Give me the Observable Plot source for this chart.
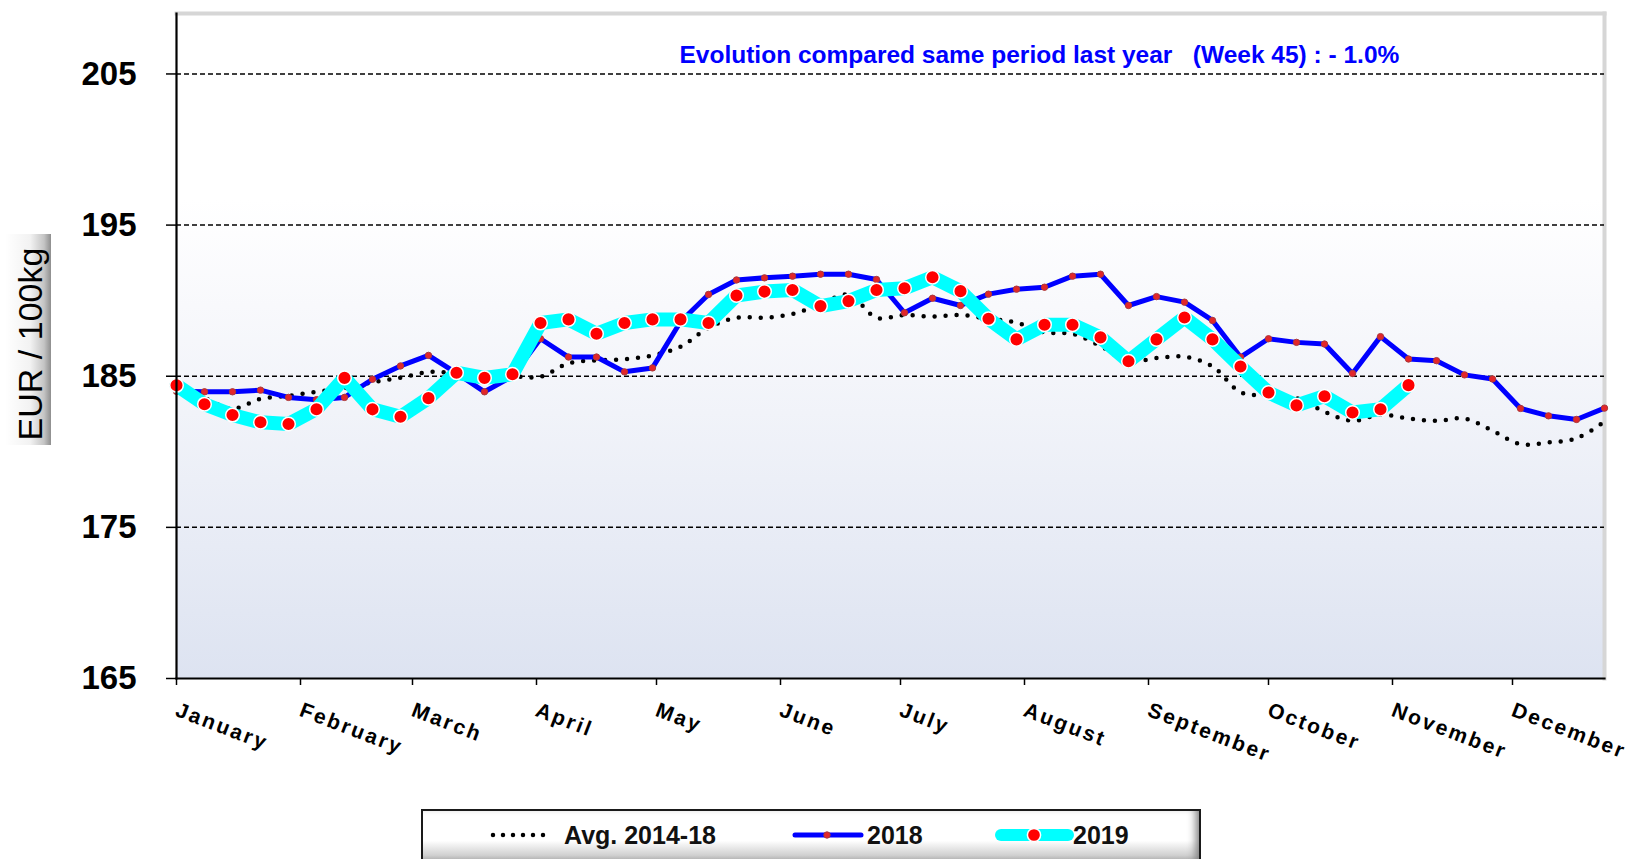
<!DOCTYPE html>
<html><head><meta charset="utf-8">
<script src="https://cdn.jsdelivr.net/npm/d3@7"></script>
<script src="https://cdn.jsdelivr.net/npm/@observablehq/plot@0.6"></script>
<style>
html,body{margin:0;padding:0;background:#fff;width:1631px;height:859px;overflow:hidden;font-family:"Liberation Sans",Arial,sans-serif;}
#wrap{position:relative;width:1631px;height:859px;}
#chart svg{display:block;}
g[aria-label="x-axis tick label"] text{letter-spacing:2.4px;}
#legend{position:absolute;left:421px;top:809px;width:780px;height:58px;box-sizing:border-box;border:2px solid #1a1a1a;
  background:linear-gradient(#ffffff 0%,#ffffff 55%,#d0d0d0 82%,#8f8f8f 100%);box-shadow:inset -8px 0 8px -5px #7a7a7a;}
#legend svg{display:block;}
</style></head><body>
<div id="wrap"><div id="chart"></div><div id="legend"></div></div>
<script>
const monthNames = ["January","February","March","April","May","June","July","August","September","October","November","December"];
const weeks = [1,2,3,4,5,6,7,8,9,10,11,12,13,14,15,16,17,18,19,20,21,22,23,24,25,26,27,28,29,30,31,32,33,34,35,36,37,38,39,40,41,42,43,44,45,46,47,48,49,50,51,52];
const avg = [184.2,183.55,182.85,183.5,183.7,183.97,184.2,184.6,184.9,185.28,185.2,185.05,185.0,184.97,185.85,186.05,186.12,186.38,186.95,188.2,188.87,188.87,189.12,189.75,190.4,188.87,189.05,188.95,189.05,188.8,188.55,187.9,187.8,187.0,186.0,186.2,186.3,185.65,183.95,183.7,183.55,182.65,182.05,182.45,182.2,182.05,182.2,181.4,180.5,180.62,180.89,182.0];
const y2018 = [184.0,183.97,183.97,184.08,183.6,183.45,183.6,184.8,185.68,186.38,185.2,183.97,185.0,187.48,186.27,186.27,185.29,185.55,188.6,190.41,191.37,191.51,191.62,191.75,191.75,191.4,189.2,190.16,189.68,190.43,190.76,190.89,191.62,191.75,189.68,190.27,189.9,188.69,186.27,187.48,187.24,187.13,185.18,187.62,186.14,186.03,185.09,184.82,182.87,182.38,182.14,182.89];
const y2019 = [184.4,183.15,182.43,181.95,181.84,182.82,184.89,182.81,182.32,183.55,185.23,184.89,185.13,188.52,188.76,187.81,188.52,188.76,188.76,188.52,190.34,190.6,190.71,189.64,189.97,190.71,190.82,191.55,190.63,188.8,187.44,188.41,188.41,187.57,185.99,187.44,188.89,187.44,185.64,183.92,183.07,183.68,182.6,182.82,184.41];
const yTicks = [165,175,185,195,205];
const gridValues = [175,185,195,205];
const seriesNames = ["Avg. 2014-18","2018","2019"];
const yLabel = "EUR / 100kg";
const note = "Evolution compared same period last year\u00a0\u00a0 (Week 45) : - 1.0%";

const weekDate = w => new Date(Date.UTC(2019, 0, 1 + 7 * (w - 1)));
const rowsAvg = weeks.map((w, i) => ({date: weekDate(w), value: avg[i]}));
const rows2018 = weeks.map((w, i) => ({date: weekDate(w), value: y2018[i]}));
const rows2019 = y2019.map((v, i) => ({date: weekDate(weeks[i]), value: v}));
const monthStarts = monthNames.map((m, i) => new Date(Date.UTC(2019, i, 1)));

const chart = Plot.plot({
  width: 1631, height: 800,
  marginTop: 13, marginRight: 27, marginBottom: 122, marginLeft: 176,
  x: {type: "utc", domain: [weekDate(weeks[0]), weekDate(weeks[weeks.length - 1])]},
  y: {domain: [165, 209]},
  style: {fontFamily: "'Liberation Sans', Arial, sans-serif", background: "transparent", overflow: "visible", color: "#000"},
  marks: [
    Plot.frame({fill: "url(#plotbg)", stroke: null}),
    Plot.frame({anchor: "top", stroke: "#d6d6d6", strokeWidth: 4}),
    Plot.frame({anchor: "right", stroke: "#d6d6d6", strokeWidth: 4}),
    Plot.ruleY(gridValues, {stroke: "#000", strokeWidth: 1.5, strokeDasharray: "5,3"}),
    Plot.line(rowsAvg, {x: "date", y: "value", stroke: "#000", strokeWidth: 4.5, strokeDasharray: "0,11", strokeLinecap: "round", curve: "catmull-rom"}),
    Plot.line(rows2018, {x: "date", y: "value", stroke: "#0000ff", strokeWidth: 5, strokeLinejoin: "round"}),
    Plot.dot(rows2018, {x: "date", y: "value", r: 3.2, fill: "#e3262a", stroke: "#a83a3a", strokeWidth: 1}),
    Plot.line(rows2019, {x: "date", y: "value", stroke: "#00ffff", strokeWidth: 14, strokeLinejoin: "round"}),
    Plot.dot(rows2019, {x: "date", y: "value", r: 6.8, fill: "#ff0000", stroke: "#ffffff", strokeWidth: 1.5}),
    Plot.frame({anchor: "left", stroke: "#000", strokeWidth: 2.2}),
    Plot.frame({anchor: "bottom", stroke: "#000", strokeWidth: 2.2}),
    Plot.axisY({ticks: yTicks, tickSize: 10, tickPadding: 30, tickFormat: d => String(d), fontSize: 33, fontWeight: "bold", label: null, strokeWidth: 1.5}),
    Plot.axisX({ticks: monthStarts, tickSize: 7, tickFormat: () => "", label: null, strokeWidth: 1.5}),
    Plot.axisX({ticks: monthStarts, tickSize: 0, tickPadding: 23, tickRotate: 21, textAnchor: "start", lineAnchor: "top", dx: 3,
      tickFormat: d => monthNames[d.getUTCMonth()], fontSize: 21, fontWeight: "bold", label: null}),
    Plot.text([yLabel], {text: d => d, frameAnchor: "left", dx: -159, dy: -2, rotate: -90, textAnchor: "middle", lineAnchor: "top", fontSize: 34, fill: "#000"}),
    Plot.text([note], {text: d => d, frameAnchor: "top-left", dx: 503, dy: 42, textAnchor: "start", lineAnchor: "middle", fill: "#0000ff", fontSize: 24.5, fontWeight: "bold"})
  ]
});
document.getElementById("chart").appendChild(chart);

// decorations: gradients and label box
const svg = d3.select(chart);
svg.insert("rect", ":first-child").attr("x", 5).attr("y", 234).attr("width", 46).attr("height", 211).attr("fill", "url(#labelbg)");
const defs = svg.insert("defs", ":first-child");
const pg = defs.append("linearGradient").attr("id", "plotbg").attr("x1", 0).attr("y1", 0).attr("x2", 0).attr("y2", 1);
[[0, "#ffffff"], [0.28, "#ffffff"], [0.6, "#f1f3f9"], [1, "#dde3f1"]].forEach(([o, c]) => pg.append("stop").attr("offset", o).attr("stop-color", c));
const lg = defs.append("linearGradient").attr("id", "labelbg").attr("x1", 0).attr("y1", 0).attr("x2", 1).attr("y2", 0);
[[0, "#ffffff"], [0.55, "#f2f2f2"], [0.85, "#c4c4c4"], [1, "#8e8e8e"]].forEach(([o, c]) => lg.append("stop").attr("offset", o).attr("stop-color", c));

// legend
const L = d3.select("#legend").append("svg").attr("width", 776).attr("height", 54)
  .style("font-family", "'Liberation Sans', Arial, sans-serif");
const cy = 24;
L.append("line").attr("x1", 70).attr("x2", 130).attr("y1", cy).attr("y2", cy)
  .attr("stroke", "#000").attr("stroke-width", 4.5).attr("stroke-dasharray", "0,10").attr("stroke-linecap", "round");
L.append("line").attr("x1", 372).attr("x2", 438).attr("y1", cy).attr("y2", cy)
  .attr("stroke", "#0000ff").attr("stroke-width", 5).attr("stroke-linecap", "round");
L.append("circle").attr("cx", 404).attr("cy", cy).attr("r", 3.2).attr("fill", "#e3262a").attr("stroke", "#a83a3a");
L.append("line").attr("x1", 578).attr("x2", 645).attr("y1", cy).attr("y2", cy)
  .attr("stroke", "#00ffff").attr("stroke-width", 12).attr("stroke-linecap", "round");
L.append("circle").attr("cx", 611).attr("cy", cy).attr("r", 6.6).attr("fill", "#ff0000").attr("stroke", "#fff").attr("stroke-width", 1.5);
[[141, seriesNames[0]], [444, seriesNames[1]], [650, seriesNames[2]]].forEach(([x, t]) =>
  L.append("text").attr("x", x).attr("y", cy).attr("dy", "0.36em").attr("font-size", 25).attr("font-weight", "bold").attr("fill", "#111").text(t));
</script>
</body></html>
